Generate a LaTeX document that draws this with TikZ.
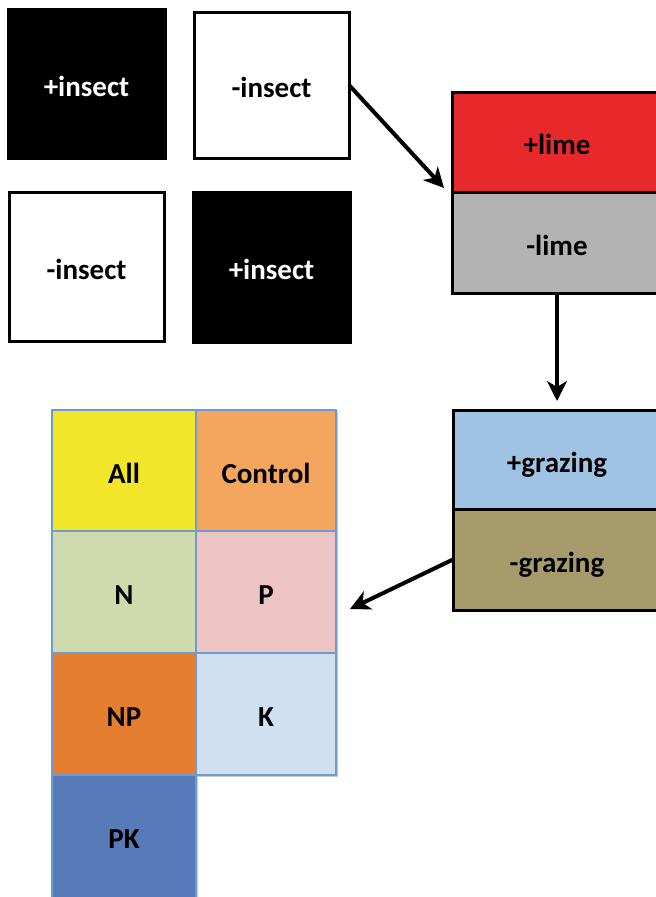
\documentclass[tikz,border=0pt]{standalone}
\usepackage{fontspec}
\setmainfont{Carlito}
\usetikzlibrary{arrows.meta,shadows,calc}
\definecolor{limered}{HTML}{E8292C}
\definecolor{limegray}{HTML}{B3B3B3}
\definecolor{grazblue}{HTML}{A1C3E3}
\definecolor{grazbrown}{HTML}{A89B6B}
\definecolor{cellborder}{HTML}{6E9CD0}
\definecolor{cAll}{HTML}{F2E62B}
\definecolor{cControl}{HTML}{F4A55E}
\definecolor{cN}{HTML}{CFDBAF}
\definecolor{cP}{HTML}{EBC4C3}
\definecolor{cNP}{HTML}{E67E30}
\definecolor{cK}{HTML}{D0E0F0}
\definecolor{cPK}{HTML}{577AB8}
\tikzset{
  lbl/.style={font=\fontsize{29}{32}\selectfont\bfseries,text height=25pt,text depth=0pt},
  shd/.style={drop shadow={shadow xshift=1.5pt,shadow yshift=-1.5pt,opacity=0.35,fill=black!60}},
  box/.style={draw=black,line width=3pt,inner sep=0pt,outer sep=0pt,lbl,shd},
  cell/.style={draw=cellborder,line width=2.5pt,inner sep=0pt,outer sep=0pt,lbl,shd,
    minimum height=122pt},
  arr/.style={line width=4pt,-{Stealth[length=20pt,width=20pt,inset=6pt]}}
}
\begin{document}
\begin{tikzpicture}[x=1pt,y=-1pt]
\clip (0,0) rectangle (656,897);
\fill[white] (0,0) rectangle (656,897);
% insect boxes
\node[box,fill=black,text=white,minimum width=157,minimum height=149] (i1) at (86.5,83.5) {+insect};
\node[box,fill=white,minimum width=155,minimum height=146] (i2) at (271.5,85) {-insect};
\node[box,fill=white,minimum width=155,minimum height=149] (i3) at (86.5,266.5) {-insect};
\node[box,fill=black,text=white,minimum width=157,minimum height=150] (i4) at (271.5,267) {+insect};
% lime
\node[box,fill=limered,minimum width=210,minimum height=100] (limeP) at (557,142) {+lime};
\node[box,fill=limegray,minimum width=210,minimum height=101] (limeM) at (557,242.5) {-lime};
% grazing
\node[box,fill=grazblue,minimum width=208,minimum height=99] (grazP) at (557,459.5) {+grazing};
\node[box,fill=grazbrown,minimum width=208,minimum height=101] (grazM) at (557,559.5) {-grazing};
% grid
\node[cell,fill=cAll,minimum width=144,minimum height=121] (All) at (124,470.5) {All};
\node[cell,fill=cControl,minimum width=140,minimum height=121] (Control) at (266,470.5) {Control};
\node[cell,fill=cN,minimum width=144] (N) at (124,592) {N};
\node[cell,fill=cP,minimum width=140] (P) at (266,592) {P};
\node[cell,fill=cNP,minimum width=144] (NP) at (124,714) {NP};
\node[cell,fill=cK,minimum width=140] (K) at (266,714) {K};
\node[cell,fill=cPK,minimum width=144,minimum height=130] (PK) at (124,840) {};
\node[lbl] at (PK.center) [yshift=4pt] {PK};
% arrows
\draw[arr] (i2.east) -- ([xshift=-8pt,yshift=4pt]limeP.south west);
\draw[arr,shorten >=9pt] (limeM.south) -- (grazP.north);
\draw[arr] (grazM.west) -- ([xshift=14pt,yshift=-17pt]P.east);
\end{tikzpicture}
\end{document}
